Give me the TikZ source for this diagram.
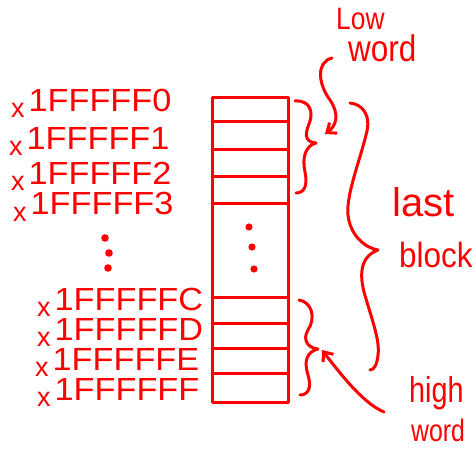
\documentclass[tikz,border=0pt]{standalone}
\usepackage{fontspec}
\setmainfont{Liberation Sans}
\usetikzlibrary{arrows.meta}
% small lowered "x" in front of each address
\newcommand\hexpre{\raisebox{-6pt}{\fontsize{27}{27}\selectfont x}\kern 4pt}
% address digits, slightly widened
\newcommand\hexnum[1]{\hexpre\scalebox{1.07}[1]{#1}}
% hand-lettered word: horizontal squeeze, font size, text
\newcommand\handword[3]{\scalebox{#1}[1]{\fontsize{#2}{#2}\selectfont #3}}
\begin{document}
\begin{tikzpicture}[x=1pt, y=-1pt, line cap=round, line join=round,
  ink/.style={draw=red, line width=3pt},
  barb/.style={-{Straight Barb[length=8pt,width=13pt,line width=3pt]}},
  hexlabel/.style={anchor=base west, inner sep=0pt, text=red,
                   font=\fontsize{32}{32}\selectfont},
  wordlabel/.style={anchor=base west, inner sep=0pt, text=red},
  blob/.style={fill=red}]

\useasboundingbox (0,0) rectangle (474,449);

% memory column with its word slots
\draw[ink] (212,98) rectangle (288,402);
\foreach \yy in {122,150,177,204,297,323,348,373}
  \draw[ink] (212,\yy) -- (288,\yy);

% ellipsis inside the column
\fill[blob] (249,227) circle[radius=3.6pt];
\fill[blob] (252,247) circle[radius=3.6pt];
\fill[blob] (254,269) circle[radius=3.6pt];

% addresses
\node[hexlabel] (a0) at (11,112) {\hexnum{1FFFFF0}};
\node[hexlabel] (a1) at (9,150) {\hexnum{1FFFFF1}};
\node[hexlabel] (a2) at (11,185) {\hexnum{1FFFFF2}};
\node[hexlabel] (a3) at (13,215) {\hexnum{1FFFFF3}};
\fill[blob] (105,238) circle[radius=3.8pt];
\fill[blob] (109,253) circle[radius=3.8pt];
\fill[blob] (108,268) circle[radius=3.8pt];
\node[hexlabel] (ac) at (37,310) {\hexnum{1FFFFFC}};
\node[hexlabel] (ad) at (37,340) {\hexnum{1FFFFFD}};
\node[hexlabel] (ae) at (35,370) {\hexnum{1FFFFFE}};
\node[hexlabel] (af) at (37,400) {\hexnum{1FFFFFF}};

% braces
\coordinate (lowtip) at (316,143);
\coordinate (hightip) at (318,349);
\coordinate (blocktip) at (378,250);
\draw[ink] (295,101) .. controls (310,100) and (314,112) .. (309,124)
  .. controls (304,136) and (306,142) .. (lowtip)
  .. controls (305,146) and (302,158) .. (305,172)
  .. controls (308,186) and (304,193) .. (296,193);
\draw[ink] (299,300) .. controls (312,302) and (316,318) .. (308,330)
  .. controls (302,340) and (308,348) .. (hightip)
  .. controls (306,352) and (304,362) .. (308,375)
  .. controls (312,388) and (308,395) .. (300,395);
\draw[ink] (350,103) .. controls (362,104) and (372,115) .. (366,135)
  .. controls (360,160) and (346,195) .. (348,215)
  .. controls (350,235) and (365,248) .. (blocktip)
  .. controls (364,255) and (358,268) .. (364,292)
  .. controls (372,320) and (380,340) .. (378,355)
  .. controls (377,365) and (374,370) .. (370,370);

% labels
\node[wordlabel] (low) at (336,30) {\handword{0.85}{31}{Low}};
\node[wordlabel] (lowword) at (348,62) {\handword{0.85}{37}{word}};
\node[wordlabel] (last) at (392,217) {\handword{1}{40}{last}};
\node[wordlabel] (block) at (399,268) {\handword{0.9}{35}{block}};
\node[wordlabel] (high) at (409,402) {\handword{0.8}{36}{high}};
\node[wordlabel] (highword) at (411,441) {\handword{0.8}{31}{word}};

% pointers from the labels to the small braces
\coordinate (lowstart) at (332,58);
\coordinate (lowend) at (325,134);
\coordinate (highstart) at (384,412);
\coordinate (highend) at (322,350);
\draw[ink, barb] (lowstart) .. controls (316,62) and (318,84) .. (330,100)
  .. controls (340,115) and (336,126) .. (lowend);
\draw[ink, barb] (highstart) .. controls (365,404) and (345,380) .. (highend);
\end{tikzpicture}
\end{document}
